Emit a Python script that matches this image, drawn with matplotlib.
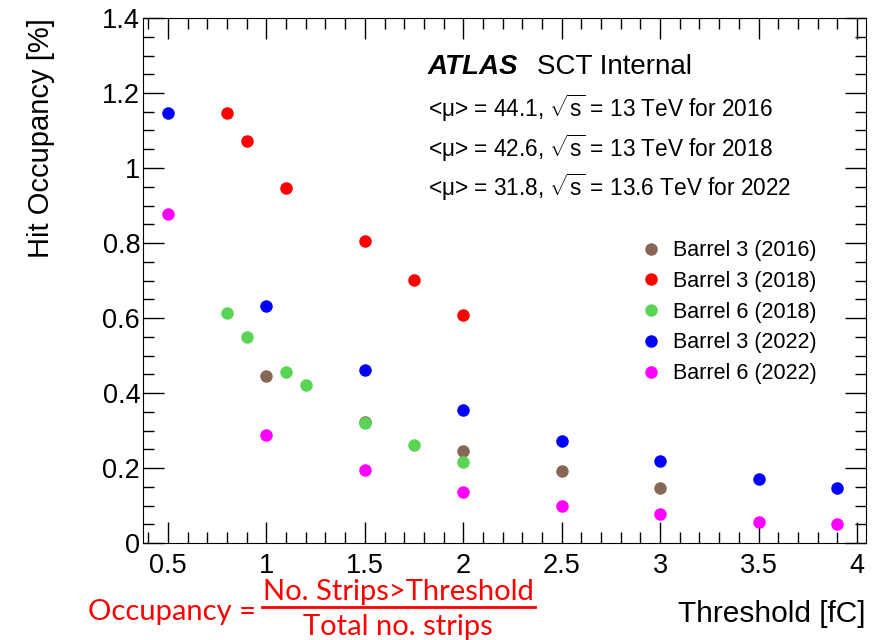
import matplotlib
matplotlib.use('Agg')
import matplotlib.pyplot as plt
from matplotlib.ticker import MultipleLocator
from matplotlib.lines import Line2D

plt.rcParams['font.family'] = ['Liberation Sans', 'DejaVu Sans']
plt.rcParams['mathtext.fontset'] = 'custom'
plt.rcParams['mathtext.rm'] = 'Liberation Sans'

# threshold [fC] and hit occupancy [%]
x_b3_2016 = [1.0, 1.5, 2.0, 2.5, 3.0]
y_b3_2016 = [0.445, 0.323, 0.245, 0.192, 0.147]

x_b3_2018 = [0.8, 0.9, 1.1, 1.5, 1.75, 2.0]
y_b3_2018 = [1.147, 1.072, 0.947, 0.805, 0.701, 0.608]

x_b6_2018 = [0.8, 0.9, 1.1, 1.2, 1.5, 1.75, 2.0]
y_b6_2018 = [0.613, 0.549, 0.456, 0.421, 0.320, 0.261, 0.216]

x_b3_2022 = [0.5, 1.0, 1.5, 2.0, 2.5, 3.0, 3.5, 3.9]
y_b3_2022 = [1.147, 0.632, 0.461, 0.355, 0.272, 0.219, 0.171, 0.147]

x_b6_2022 = [0.5, 1.0, 1.5, 2.0, 2.5, 3.0, 3.5, 3.9]
y_b6_2022 = [0.877, 0.288, 0.195, 0.136, 0.099, 0.077, 0.056, 0.051]

series = [
    (x_b3_2016, y_b3_2016, '#886655', 'Barrel 3 (2016)'),
    (x_b3_2018, y_b3_2018, '#ff0000', 'Barrel 3 (2018)'),
    (x_b6_2018, y_b6_2018, '#59d454', 'Barrel 6 (2018)'),
    (x_b3_2022, y_b3_2022, '#0000ff', 'Barrel 3 (2022)'),
    (x_b6_2022, y_b6_2022, '#ff00ff', 'Barrel 6 (2022)'),
]

fig = plt.figure(figsize=(8.85, 6.4), dpi=100)
ax = fig.add_axes([143/885, 1-543/640, 723/885, 525/640])

for xs, ys, c, lab in series:
    ax.plot(xs, ys, 'o', color=c, markersize=9, markeredgewidth=0, label=lab)

ax.set_xlim(0.373, 4.046)
ax.set_ylim(0, 1.4)
ax.xaxis.set_major_locator(MultipleLocator(0.5))
ax.xaxis.set_minor_locator(MultipleLocator(0.1))
ax.yaxis.set_major_locator(MultipleLocator(0.2))
ax.yaxis.set_minor_locator(MultipleLocator(0.05))
ax.tick_params(which='both', direction='in', top=True, right=True, width=1)
ax.tick_params(which='major', length=15, labelsize=19.5)
ax.tick_params(axis='x', which='major', pad=7)
ax.tick_params(axis='y', which='major', pad=2)
ax.tick_params(which='minor', length=8)
ax.xaxis.set_major_formatter(plt.FuncFormatter(lambda v, p: ('%g' % v)))
ax.yaxis.set_major_formatter(plt.FuncFormatter(lambda v, p: ('%g' % round(v, 2))))

ax.set_ylabel('Hit Occupancy [%]', fontsize=21, loc='top', labelpad=34)
ax.set_xlabel('Threshold [fC]', fontsize=21.5, loc='right', labelpad=15)

ax.text(0.394, 0.907, 'ATLAS', transform=ax.transAxes, fontsize=20,
        fontweight='bold', fontstyle='italic', va='center')
ax.text(0.545, 0.907, 'SCT Internal', transform=ax.transAxes, fontsize=20, va='center')
lines = [r'<μ> = 44.1, $\sqrt{\mathrm{s}}$ = 13 TeV for 2016',
         r'<μ> = 42.6, $\sqrt{\mathrm{s}}$ = 13 TeV for 2018',
         r'<μ> = 31.8, $\sqrt{\mathrm{s}}$ = 13.6 TeV for 2022']
for i, t in enumerate(lines):
    ax.text(0.394, 0.828 - i*0.0755, t, transform=ax.transAxes, fontsize=16.3, va='center')

ax.legend(loc='upper left', bbox_to_anchor=(0.674, 0.593), frameon=False,
          fontsize=15.5, handletextpad=0.5, labelspacing=0.45, handlelength=1.1,
          borderaxespad=0)

red = '#ff0000'
ff = ['Lato', 'DejaVu Sans']
fig.text(88/885, 1-612/640, 'Occupancy =', color=red, fontsize=21, family=ff, va='center')
fig.text(398/885, 1-592/640, 'No. Strips>Threshold', color=red, fontsize=21, family=ff,
         va='center', ha='center')
fig.text(398/885, 1-627/640, 'Total no. strips', color=red, fontsize=21, family=ff,
         va='center', ha='center')
fig.add_artist(Line2D([262/885, 535/885], [1-607/640, 1-607/640], color=red, lw=2))

fig.savefig('out.png', dpi=100)
